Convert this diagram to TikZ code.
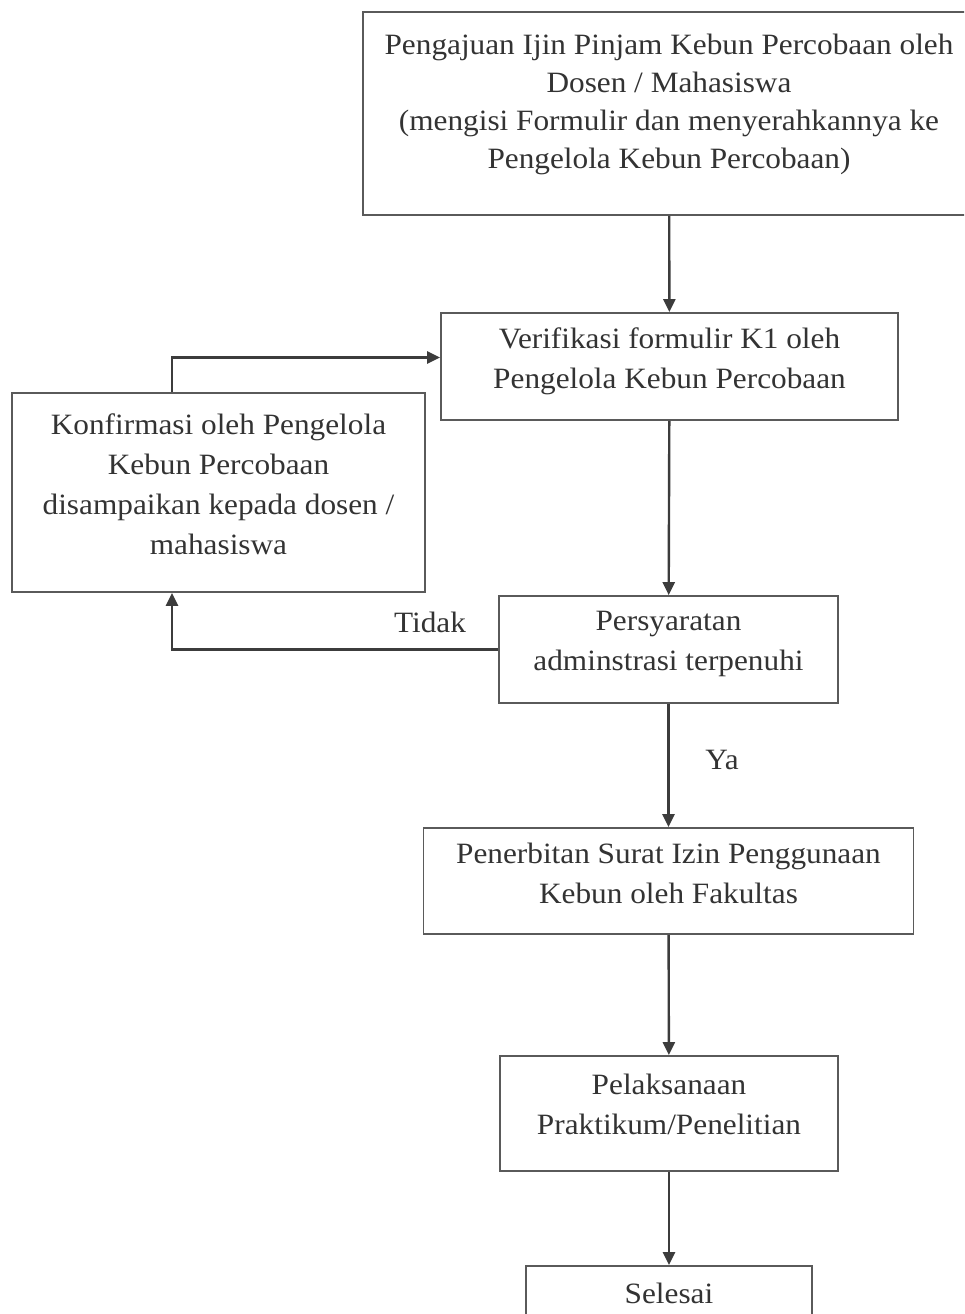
\documentclass[tikz,border=0pt]{standalone}
\usepackage{fontspec}
\setmainfont{Liberation Serif}[FakeStretch=1.06]
\usetikzlibrary{arrows.meta,positioning,calc}
\definecolor{ln}{HTML}{3C3C3C}
\definecolor{bd}{HTML}{5A5A5A}
\definecolor{tx}{HTML}{333333}
\newcommand{\lift}[1]{\rule[-#1]{0pt}{0pt}}
\tikzset{
  box/.style={draw=bd,line width=1.8pt,align=center,inner sep=4pt,text=tx,font=\fontsize{29.5}{40}\selectfont},
  ar/.style={-{Triangle[length=13pt,width=12pt]},line width=2.4pt,draw=ln},
  lbl/.style={text=tx,font=\fontsize{29.5}{36}\selectfont},
}

\begin{document}
\begin{tikzpicture}[x=1pt,y=-1pt]
\useasboundingbox (0,0) rectangle (964,1314);
\clip (0,0) rectangle (964,1314);
% process boxes
\node[box,minimum width=612pt,minimum height=203pt,font=\fontsize{29.5}{38}\selectfont] (aju) at (669,113.5)
  {Pengajuan Ijin Pinjam Kebun Percobaan oleh\\Dosen / Mahasiswa\\(mengisi Formulir dan menyerahkannya ke\\Pengelola Kebun Percobaan)\lift{24pt}};
\node[box,minimum width=457pt,minimum height=107pt] (verif) at (669.5,366.5)
  {Verifikasi formulir K1 oleh\\Pengelola Kebun Percobaan\lift{17pt}};
\node[box,minimum width=413pt,minimum height=199pt] (konf) at (218.5,492.5)
  {Konfirmasi oleh Pengelola\\Kebun Percobaan\\disampaikan kepada dosen /\\mahasiswa\lift{17pt}};
\node[box,minimum width=339pt,minimum height=107pt] (syarat) at (668.5,649.5)
  {Persyaratan\\adminstrasi terpenuhi\lift{17pt}};
\node[box,minimum width=490pt,minimum height=106pt] (terbit) at (668.5,881)
  {Penerbitan Surat Izin Penggunaan\\Kebun oleh Fakultas\lift{15pt}};
\node[box,minimum width=338pt,minimum height=115pt] (laksana) at (669,1113.5)
  {Pelaksanaan\\Praktikum/Penelitian\lift{19pt}};
\node[box,minimum width=286pt,minimum height=54pt] (selesai) at (669,1293) {Selesai};
% loop back column
\coordinate (kx) at (172,0);
% connectors
\draw[ar] (aju) -- (verif);
\draw[ar] (verif) -- (syarat);
\draw[ar] (syarat.west) -| (kx |- konf.south);
\draw[ar] (kx |- konf.north) |- ([yshift=9pt]verif.west);
\draw[ar] (syarat) -- (terbit);
\draw[ar] (terbit) -- (laksana);
\draw[ar] (laksana) -- (selesai);
\node[lbl] (tidak) at (430,622) {Tidak};
\node[lbl] (ya) at (722,760) {Ya};
\end{tikzpicture}
\end{document}
